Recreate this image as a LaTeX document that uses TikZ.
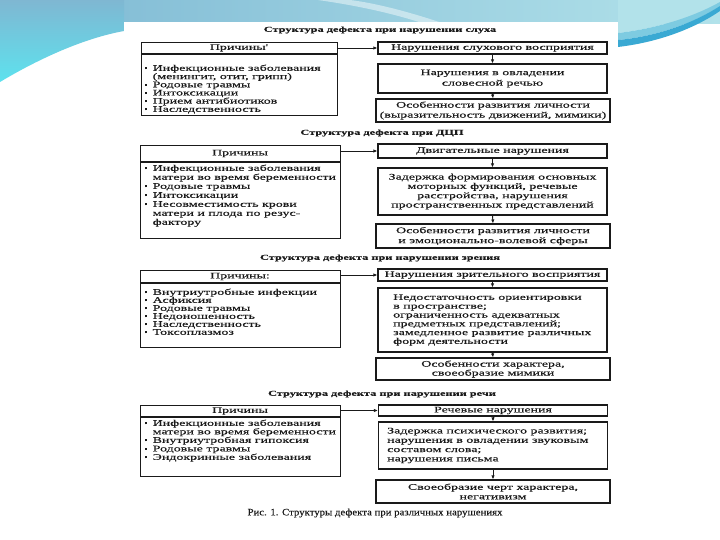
\documentclass[tikz,border=0pt]{standalone}
\usepackage{fontspec}
\setmainfont{Liberation Serif}
\newfontfamily\dfont{Liberation Serif}[FakeStretch=1.62, FakeBold=0.2]
\newfontfamily\cfont{Liberation Serif}[FakeStretch=1.1, FakeBold=0.2]
\usetikzlibrary{arrows.meta}
\definecolor{ink}{HTML}{1A1A1A}
\definecolor{bandL}{HTML}{7DB8D3}
\definecolor{bandR}{HTML}{B2E2EA}
\definecolor{blueTop}{HTML}{7FB7D2}
\definecolor{blueBot}{HTML}{5DE2EE}
\definecolor{swA}{HTML}{7ECBE1}
\definecolor{swB}{HTML}{3AA9D3}
\newcommand{\bul}{\makebox[7.5pt][l]{\raisebox{0.35ex}{\rule{2pt}{2pt}}}}
\newcommand{\ind}{\hspace*{7.5pt}}
\begin{document}
\begin{tikzpicture}[x=1pt,y=-1pt,
  every node/.style={font={\dfont\fontsize{8.6}{8.2}\selectfont}, text=ink, inner sep=0pt},
  boxline/.style={draw=ink, line width=1.1pt},
  lbox/.style={boxline, anchor=north west, minimum width=198pt},
  rbox/.style={boxline, minimum width=229pt, align=center},
  rboxw/.style={boxline, minimum width=234pt, align=center},
  ttl/.style={font={\dfont\bfseries\fontsize{7.6}{8}\selectfont}},
  hdr/.style={},
  blist/.style={anchor=north west, align=left},
  ltext/.style={anchor=west, align=left},
  conn/.style={draw=ink, line width=0.9pt, -{Latex[length=4pt,width=3.4pt]}}
]
\useasboundingbox (0,0) rectangle (720,540);
% background
\fill[white] (0,0) rectangle (720,540);
\shade[left color=bandL, right color=bandR] (0,0) rectangle (720,24);
\shade[top color=blueTop, bottom color=blueBot] (0,0) -- (0,82) .. controls (40,58) and (85,38) .. (124,31) -- (124,0) -- cycle;
\fill[white, opacity=0.45] (318,0) .. controls (360,6) and (395,14) .. (425,24) -- (445,24) .. controls (410,12) and (375,3) .. (350,0) -- cycle;
\fill[bandR] (618,0) -- (720,0) -- (720,2) .. controls (695,16) and (660,28) .. (618,33) -- cycle;
\fill[swA] (618,33) .. controls (660,28) and (695,16) .. (720,2) -- (720,6) .. controls (695,22) and (660,36) .. (618,40) -- cycle;
\fill[swB] (618,40) .. controls (660,36) and (695,22) .. (720,6) -- (720,11) .. controls (695,28) and (660,42) .. (618,47) -- cycle;
% panel
\fill[white] (124,22) rectangle (618,540);

% ===== Section 1 =====
\node[ttl] (T1) at (380,30) {Структура дефекта при нарушении слуха};
\node[lbox, minimum width=196pt, minimum height=73pt] (L1) at (141,42) {};
\draw[boxline] (L1.west |- 0,54) -- (L1.east |- 0,54);
\node[hdr] (L1h) at (239,48) {Причины'};
\node[blist, font={\dfont\fontsize{8.6}{8.2}\selectfont}] (L1t) at (145,64.5) {\bul Инфекционные заболевания\\ \ind(менингит, отит, грипп)\\ \bul Родовые травмы\\ \bul Интоксикации\\ \bul Прием антибиотиков\\ \bul Наследственность};
\node[rbox, minimum height=12pt] (R1a) at (492.5,48) {Нарушения слухового восприятия};
\node[rbox, minimum height=29pt, font={\dfont\fontsize{8.6}{10.5}\selectfont}] (R1b) at (492.5,78.5) {Нарушения в овладении\\ словесной речью};
\node[rboxw, minimum height=23pt, font={\dfont\fontsize{8.6}{10}\selectfont}] (R1c) at (493,110.5) {Особенности развития личности\\ (выразительность движений, мимики)};
\draw[conn] (R1a.west -| L1.east) -- (R1a.west);
\draw[conn] (R1a.south) -- (R1b.north);
\draw[conn] (R1b.south) -- (R1c.north);

% ===== Section 2 =====
\node[ttl] (T2) at (382,133) {Структура дефекта при ДЦП};
\node[lbox, minimum width=200pt, minimum height=93pt] (L2) at (140,145) {};
\draw[boxline] (L2.west |- 0,162) -- (L2.east |- 0,162);
\node[hdr] (L2h) at (240,153.5) {Причины};
\node[blist, font={\dfont\fontsize{8.6}{9}\selectfont}] (L2t) at (145,164.5) {\bul Инфекционные заболевания\\ \ind матери во время беременности\\ \bul Родовые травмы\\ \bul Интоксикации\\ \bul Несовместимость крови\\ \ind матери и плода по резус-\\ \ind фактору};
\node[rbox, minimum height=14pt] (R2a) at (492.5,151) {Двигательные нарушения};
\node[rbox, minimum height=47pt, font={\dfont\fontsize{8.6}{9.3}\selectfont}] (R2b) at (492.5,191.5) {Задержка формирования основных\\ моторных функций, речевые\\ расстройства, нарушения\\ пространственных представлений};
\node[rboxw, minimum height=24pt, font={\dfont\fontsize{8.6}{10}\selectfont}] (R2c) at (493,236) {Особенности развития личности\\ и эмоционально-волевой сферы};
\draw[conn] (R2a.west -| L2.east) -- (R2a.west);
\draw[conn] (R2a.south) -- (R2b.north);
\draw[conn] (R2b.south) -- (R2c.north);

% ===== Section 3 =====
\node[ttl] (T3) at (380,258) {Структура дефекта при нарушении зрения};
\node[lbox, minimum width=200pt, minimum height=77pt] (L3) at (140,270) {};
\draw[boxline] (L3.west |- 0,283) -- (L3.east |- 0,283);
\node[hdr] (L3h) at (240,276.5) {Причины:};
\node[blist, font={\dfont\fontsize{8.6}{8}\selectfont}] (L3t) at (145,288.5) {\bul Внутриутробные инфекции\\ \bul Асфиксия\\ \bul Родовые травмы\\ \bul Недоношенность\\ \bul Наследственность\\ \bul Токсоплазмоз};
\node[rbox, minimum height=12pt] (R3a) at (492.5,275) {Нарушения зрительного восприятия};
\node[rbox, minimum height=64pt] (R3b) at (492.5,320) {};
\node[ltext, font={\dfont\fontsize{8.6}{8.8}\selectfont}] (R3bt) at (393,320) {Недостаточность ориентировки\\ в пространстве;\\ ограниченность адекватных\\ предметных представлений;\\ замедленное развитие различных\\ форм деятельности};
\node[rboxw, minimum height=22pt, font={\dfont\fontsize{8.6}{9}\selectfont}] (R3c) at (493,369) {Особенности характера,\\ своеобразие мимики};
\draw[conn] (R3a.west -| L3.east) -- (R3a.west);
\draw[conn] (R3a.south) -- (R3b.north);
\draw[conn] (R3b.south) -- (R3c.north);

% ===== Section 4 =====
\node[ttl] (T4) at (382,394) {Структура дефекта при нарушении речи};
\node[lbox, minimum width=200pt, minimum height=71pt] (L4) at (140,405) {};
\draw[boxline] (L4.west |- 0,417) -- (L4.east |- 0,417);
\node[hdr] (L4h) at (240,411) {Причины};
\node[blist, font={\dfont\fontsize{8.6}{8.5}\selectfont}] (L4t) at (145,419.5) {\bul Инфекционные заболевания\\ \ind матери во время беременности\\ \bul Внутриутробная гипоксия\\ \bul Родовые травмы\\ \bul Эндокринные заболевания};
\node[rbox, minimum height=11pt] (R4a) at (493,410.5) {Речевые нарушения};
\node[rbox, minimum height=47pt] (R4b) at (493,445.5) {};
\node[ltext, font={\dfont\fontsize{8.6}{9.3}\selectfont}] (R4bt) at (387,445.5) {Задержка психического развития;\\ нарушения в овладении звуковым\\ составом слова;\\ нарушения письма};
\node[rboxw, minimum height=23pt, font={\dfont\fontsize{8.6}{9.5}\selectfont}] (R4c) at (493,491.5) {Своеобразие черт характера,\\ негативизм};
\draw[conn] (R4a.west -| L4.east) -- (R4a.west);
\draw[conn] (R4a.south) -- (R4b.north);
\draw[conn] (R4b.south) -- (R4c.north);

\node[font={\cfont\fontsize{9.8}{10}\selectfont}] (CAP) at (375,513) {Рис. 1. Структуры дефекта при различных нарушениях};
\end{tikzpicture}
\end{document}
